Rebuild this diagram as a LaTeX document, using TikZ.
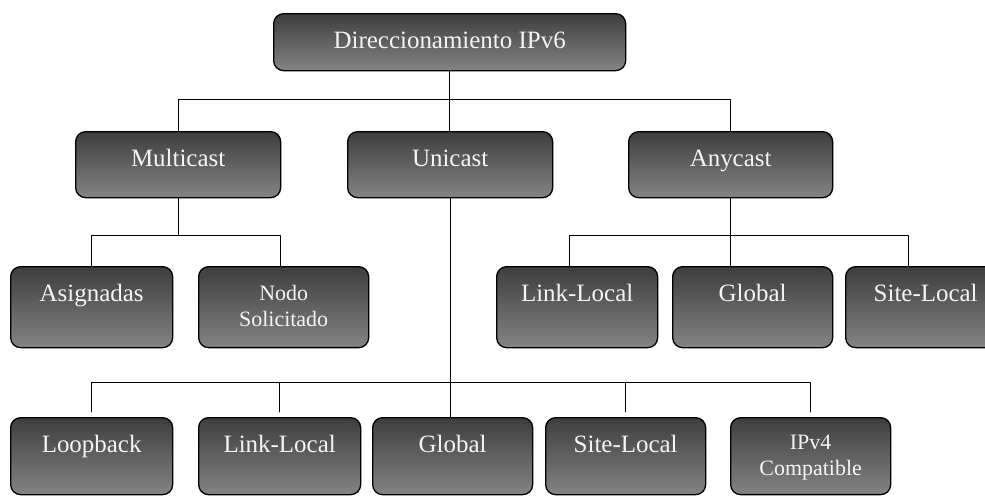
\documentclass[tikz,border=0pt]{standalone}
\usepackage{fontspec}
\setmainfont{Liberation Serif}
\definecolor{cajaarriba}{HTML}{3E3E3E}
\definecolor{cajaabajo}{HTML}{848484}
\definecolor{letra}{HTML}{F4F4F4}
\begin{document}
\begin{tikzpicture}[x=0.02cm, y=-0.02cm, font=\fontsize{14.2}{17}\selectfont, line join=round, line cap=round,
	caja/.style={draw=black, line width=0.75pt, rounded corners=0.2cm, top color=cajaarriba, bottom color=cajaabajo,
		text=letra, anchor=north west, inner sep=0pt, align=center, text height=0.7cm},
	tam/.style 2 args={minimum width=#1*0.02cm, text depth=#2*0.02cm},
	chica/.style={font=\fontsize{12.5}{14.8}\selectfont},
	linea/.style={line width=0.55pt}]
	\useasboundingbox (0,0) rectangle (985,495);
	% nivel 1
	\node[caja, tam={352}{22}] (dir) at (273,13) {Direccionamiento IPv6};
	% nivel 2
	\node[caja, tam={205}{31}] (multi) at (75,131) {Multicast};
	\node[caja, tam={205}{31}] (uni) at (347,131) {Unicast};
	\node[caja, tam={204}{31}] (any) at (628,131) {Anycast};
	% hijos de multicast
	\node[caja, tam={162}{46}] (asig) at (10,266) {Asignadas};
	\node[caja, chica, tam={170}{21}, text height=1.2cm] (nodo) at (198,266) {Nodo\\Solicitado};
	% hijos de anycast
	\node[caja, tam={161}{46}] (lla) at (496,266) {Link-Local};
	\node[caja, tam={160}{46}] (gla) at (672,266) {Global};
	\node[caja, tam={160}{46}] (sla) at (845,266) {Site-Local};
	% hijos de unicast
	\node[caja, tam={162}{42}] (loop) at (10,417) {Loopback};
	\node[caja, tam={162}{42}] (llu) at (198,417) {Link-Local};
	\node[caja, tam={160}{42}] (glu) at (372,417) {Global};
	\node[caja, tam={160}{42}] (slu) at (545,417) {Site-Local};
	\node[caja, chica, tam={160}{19}, text height=1.16cm] (ipv) at (730,417) {IPv4\\Compatible};
	% conexiones
	\draw[linea] (dir.south) -- (dir.south |- uni.north);
	\draw[linea] (dir.south) -- ++(0,28) coordinate (b1);
	\draw[linea] (multi.north) -- (multi.north |- b1) -- (any.north |- b1) -- (any.north);
	\draw[linea] (multi.south) -- ++(0,37) coordinate (b2);
	\draw[linea] (asig.north) -- (asig.north |- b2) -- ([xshift=-0.06cm]nodo.north |- b2) -- ([xshift=-0.06cm]nodo.north);
	\draw[linea] (any.south) -- (any.south |- gla.north);
	\draw[linea] (any.south) -- ++(0,37) coordinate (b3);
	\draw[linea] ([xshift=-0.15cm]lla.north) -- ([xshift=-0.15cm]lla.north |- b3) -- ([xshift=-0.34cm]sla.north |- b3) -- ([xshift=-0.34cm]sla.north);
	\draw[linea] (uni.south) -- (uni.south |- glu.north);
	\draw[linea] (uni.south) -- ++(0,184) coordinate (b4);
	\draw[linea] ([yshift=0.1cm]loop.north) -- (loop.north |- b4) -- (ipv.north |- b4) -- ([yshift=0.1cm]ipv.north);
	\draw[linea] ([yshift=0.1cm]llu.north) -- (llu.north |- b4);
	\draw[linea] ([yshift=0.1cm]slu.north) -- (slu.north |- b4);
\end{tikzpicture}
\end{document}
